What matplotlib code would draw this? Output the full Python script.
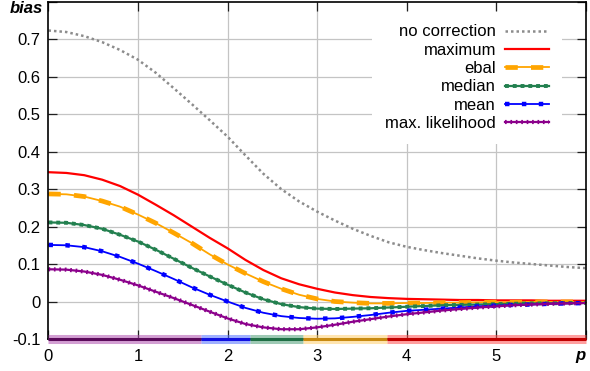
import matplotlib
matplotlib.use('Agg')
import matplotlib.pyplot as plt
from matplotlib.legend_handler import HandlerTuple

plt.rcParams['font.family'] = ['Liberation Sans', 'DejaVu Sans']

# values, p = 0 .. 6 in steps of 0.2
p = [0.0, 0.2, 0.4, 0.6, 0.8, 1.0, 1.2, 1.4, 1.6, 1.8, 2.0,
     2.2, 2.4, 2.6, 2.8, 3.0, 3.2, 3.4, 3.6, 3.8, 4.0,
     4.2, 4.4, 4.6, 4.8, 5.0, 5.2, 5.4, 5.6, 5.8, 6.0]

no_correction = [0.723, 0.719, 0.708, 0.692, 0.671, 0.645, 0.610, 0.569, 0.527, 0.484, 0.440,
                 0.390, 0.341, 0.300, 0.267, 0.240, 0.216, 0.194, 0.175, 0.158, 0.146,
                 0.137, 0.129, 0.122, 0.115, 0.109, 0.104, 0.100, 0.096, 0.092, 0.089]
maximum = [0.345, 0.343, 0.337, 0.325, 0.308, 0.285, 0.258, 0.230, 0.200, 0.170, 0.142,
           0.111, 0.084, 0.062, 0.046, 0.034, 0.024, 0.017, 0.012, 0.009, 0.007,
           0.006, 0.005, 0.004, 0.004, 0.003, 0.003, 0.003, 0.002, 0.002, 0.002]
ebal = [0.287, 0.286, 0.280, 0.268, 0.253, 0.232, 0.209, 0.183, 0.156, 0.126, 0.099,
        0.075, 0.053, 0.034, 0.018, 0.007, 0.000, -0.003, -0.005, -0.005, -0.004,
        -0.004, -0.003, -0.003, -0.002, -0.002, -0.002, -0.001, -0.001, -0.001, -0.001]
median = [0.211, 0.210, 0.204, 0.194, 0.178, 0.160, 0.138, 0.114, 0.090, 0.067, 0.045,
          0.024, 0.006, -0.007, -0.015, -0.019, -0.020, -0.019, -0.018, -0.016, -0.014,
          -0.012, -0.010, -0.009, -0.008, -0.007, -0.006, -0.005, -0.005, -0.004, -0.004]
mean = [0.151, 0.150, 0.145, 0.134, 0.119, 0.101, 0.081, 0.060, 0.038, 0.018, 0.000,
        -0.017, -0.030, -0.039, -0.044, -0.046, -0.045, -0.041, -0.036, -0.030, -0.025,
        -0.022, -0.019, -0.016, -0.013, -0.011, -0.009, -0.008, -0.006, -0.005, -0.004]
max_likelihood = [0.086, 0.085, 0.080, 0.071, 0.058, 0.043, 0.026, 0.009, -0.009, -0.027, -0.045,
                  -0.060, -0.069, -0.074, -0.074, -0.069, -0.062, -0.054, -0.047, -0.040, -0.034,
                  -0.029, -0.024, -0.020, -0.016, -0.013, -0.010, -0.008, -0.006, -0.005, -0.004]

# best method along p (band on the bottom axis)
best_edges = [0.0, 1.70, 2.25, 2.84, 3.78, 6.0]
best_halo = ['#b050b0', '#5070ff', '#50a078', '#ffd070', '#ff5050']
best_core = ['#5a0a5a', '#1010e0', '#1f6f45', '#c88a10', '#c00000']

xticks = [0, 1, 2, 3, 4, 5, 6]
xlabels = ['0', '1', '2', '3', '4', '5', '']
yticks = [-0.1, 0.0, 0.1, 0.2, 0.3, 0.4, 0.5, 0.6, 0.7, 0.8]
ylabels = ['-0.1', '0', '0.1', '0.2', '0.3', '0.4', '0.5', '0.6', '0.7', '']

fig = plt.figure(figsize=(5.9, 3.71), dpi=100)
ax = fig.add_axes([0.0822, 0.0863, 0.9102, 0.9092])

# grid drawn by hand so it sits below the key box
for v in xticks[1:-1]:
    ax.axvline(v, color='#c4c4c4', lw=0.9, zorder=0.5)
for h in yticks[1:-1]:
    ax.axhline(h, color='#c4c4c4', lw=0.9, zorder=0.5)

l_none, = ax.plot(p, no_correction, color='#8c8c8c', lw=1.8, ls=(0, (1, 1.2)))
l_max, = ax.plot(p, maximum, color='#ff0000', lw=1.6)
eb1, = ax.plot(p, ebal, color='#ffa500', lw=1.3)
eb2, = ax.plot(p, ebal, color='#ffa500', lw=3.4, ls=(0, (2.6, 2.8)))
md1, = ax.plot(p, median, color='#23804f', lw=1.6)
md2, = ax.plot(p, median, color='#23804f', lw=2.8, ls=(0, (1.0, 1.0)))
mn1, = ax.plot(p, mean, color='#0000ff', lw=1.3)
mn2, = ax.plot(p, mean, color='#0000ff', lw=3.2, ls=(0, (1.0, 2.8)))
ml1, = ax.plot(p, max_likelihood, color='#8b008b', lw=1.6)
ml2, = ax.plot(p, max_likelihood, color='#8b008b', lw=3.0, ls=(0, (0.4, 0.9)))

for i in range(len(best_core)):
    seg = [best_edges[i], best_edges[i + 1]]
    ax.plot(seg, [-0.1, -0.1], color=best_halo[i], lw=6.5, alpha=0.55,
            solid_capstyle='butt', clip_on=False, zorder=3)
    ax.plot(seg, [-0.1, -0.1], color=best_core[i], lw=2.2,
            solid_capstyle='butt', clip_on=False, zorder=3.1)

ax.set_xlim(0, 6)
ax.set_ylim(-0.1, 0.8)
ax.set_xticks(xticks)
ax.set_xticklabels(xlabels)
ax.set_yticks(yticks)
ax.set_yticklabels(ylabels)
ax.tick_params(direction='in', length=6.5, width=0.9, color='#202020',
               top=True, right=True, labelsize=12)
ax.tick_params(axis='x', pad=7.5)
ax.tick_params(axis='y', pad=5.5)
for s in ax.spines.values():
    s.set_linewidth(1.2)
    s.set_color('black')

ax.annotate('bias', xy=(0, 0.8), xycoords='data', xytext=(-6, -7),
            textcoords='offset pixels', ha='right', va='center',
            fontsize=12, fontweight='bold', fontstyle='italic')
ax.annotate('p', xy=(6, -0.1), xycoords='data', xytext=(-5, -17),
            textcoords='offset pixels', ha='center', va='center',
            fontsize=12, fontweight='bold', fontstyle='italic')

leg = ax.legend([l_none, l_max, (eb1, eb2), (md1, md2), (mn1, mn2), (ml1, ml2)],
                ['no correction', 'maximum', 'ebal', 'median', 'mean', 'max. likelihood'],
                handler_map={tuple: HandlerTuple(ndivide=1)},
                loc='upper right', bbox_to_anchor=(0.956, 0.972),
                markerfirst=False, fontsize=12, borderpad=0.8,
                handlelength=2.6, handletextpad=0.55, labelspacing=0.2,
                borderaxespad=0, fancybox=False, framealpha=1, edgecolor='none')
leg.set_zorder(1)

fig.savefig('out.png', dpi=100)
